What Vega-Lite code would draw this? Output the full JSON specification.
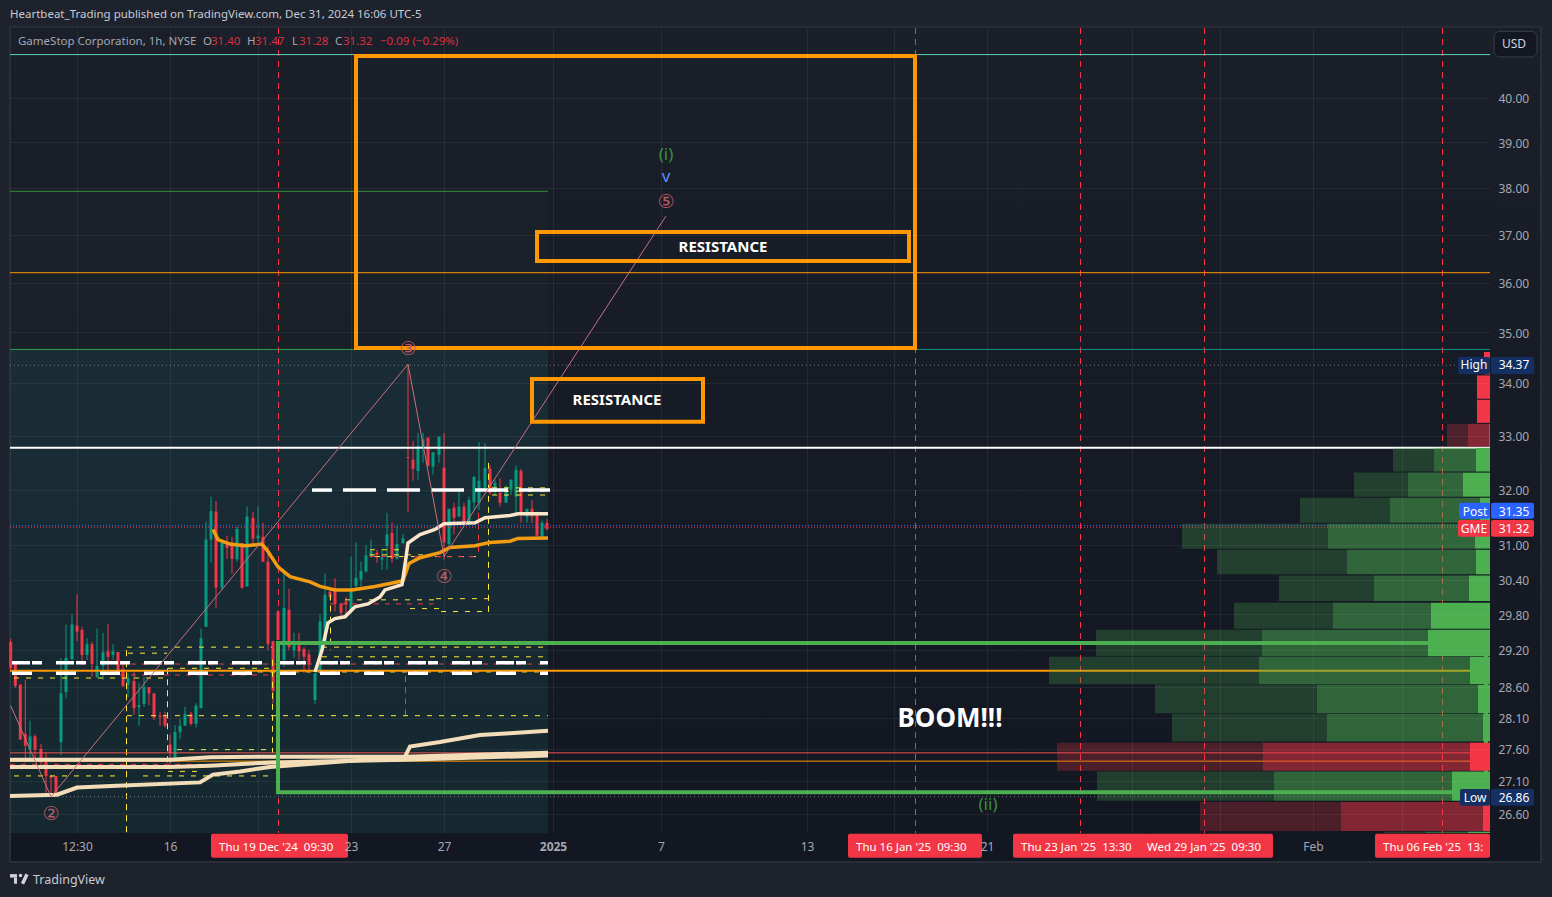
{
"$schema":"https://vega.github.io/schema/vega-lite/v6.json",
"width":1480,"height":805,
"autosize":{"type":"none"},
"padding":{"left":10,"top":28,"right":62,"bottom":64},
"background":"#1E222D",
"config":{"font":"Noto Sans","view":{"stroke":null,"fill":{"x1":0,"y1":0,"x2":0,"y2":1,"gradient":"linear","stops":[{"offset":0,"color":"#1B1F2A"},{"offset":1,"color":"#131722"}]}}},
"datasets":{
"candles":[
{"t":10.7,"o":29.34,"h":29.39,"l":28.84,"c":28.90},{"t":15.3,"o":28.97,"h":28.97,"l":28.58,"c":28.61},{"t":20.3,"o":28.63,"h":28.64,"l":27.75,"c":27.75},{"t":25.3,"o":27.84,"h":28.71,"l":27.39,"c":27.65},{"t":30,"o":27.60,"h":28.05,"l":27.43,"c":27.80},{"t":35,"o":27.80,"h":27.83,"l":27.43,"c":27.59},{"t":41,"o":27.60,"h":27.68,"l":27.32,"c":27.39},{"t":46,"o":27.40,"h":27.54,"l":26.92,"c":27.18},{"t":51,"o":27.18,"h":27.20,"l":26.86,"c":27.15},{"t":56,"o":27.18,"h":27.18,"l":26.89,"c":26.89},
{"t":61,"o":27.71,"h":29.07,"l":27.50,"c":28.49},{"t":66,"o":28.51,"h":29.63,"l":28.41,"c":29.07},{"t":72,"o":29.05,"h":29.80,"l":29.04,"c":29.63},{"t":77,"o":29.61,"h":30.14,"l":29.35,"c":29.51},{"t":82,"o":29.54,"h":29.59,"l":28.95,"c":29.12},{"t":87,"o":29.12,"h":29.40,"l":29.04,"c":29.30},{"t":92,"o":29.30,"h":29.34,"l":28.76,"c":28.97},{"t":97,"o":28.76,"h":29.56,"l":28.74,"c":28.94},{"t":103,"o":28.94,"h":29.49,"l":28.71,"c":29.17},{"t":108,"o":29.18,"h":29.64,"l":28.87,"c":29.09},
{"t":113,"o":29.12,"h":29.30,"l":29.04,"c":29.18},{"t":118,"o":29.17,"h":29.17,"l":28.82,"c":28.82},{"t":123,"o":28.89,"h":29.00,"l":28.59,"c":28.61},{"t":128,"o":28.63,"h":28.82,"l":28.43,"c":28.74},{"t":134,"o":28.69,"h":28.84,"l":28.14,"c":28.25},{"t":139,"o":28.27,"h":28.66,"l":27.97,"c":28.30},{"t":144,"o":28.32,"h":28.76,"l":28.27,"c":28.59},{"t":149,"o":28.59,"h":28.59,"l":28.30,"c":28.49},{"t":154,"o":28.49,"h":28.49,"l":28.06,"c":28.10},{"t":160,"o":28.13,"h":28.19,"l":27.97,"c":28.11},
{"t":165,"o":28.13,"h":28.19,"l":27.94,"c":27.97},{"t":170,"o":27.67,"h":27.83,"l":27.31,"c":27.54},{"t":175,"o":27.47,"h":27.98,"l":27.47,"c":27.87},{"t":180,"o":27.87,"h":28.08,"l":27.76,"c":27.97},{"t":185,"o":27.97,"h":28.27,"l":27.97,"c":28.16},{"t":191,"o":28.16,"h":28.19,"l":27.97,"c":28.00},{"t":196,"o":28.00,"h":28.33,"l":27.94,"c":28.29},{"t":201,"o":28.25,"h":29.56,"l":28.25,"c":29.40},{"t":206,"o":29.59,"h":31.42,"l":29.59,"c":31.10},{"t":211,"o":31.10,"h":31.87,"l":30.69,"c":31.61},
{"t":216,"o":31.60,"h":31.79,"l":29.90,"c":30.26},{"t":222,"o":30.26,"h":31.05,"l":30.22,"c":31.05},{"t":227,"o":31.07,"h":31.17,"l":30.76,"c":30.95},{"t":232,"o":30.99,"h":31.15,"l":30.50,"c":30.76},{"t":237,"o":30.75,"h":31.33,"l":30.71,"c":31.29},{"t":242,"o":31.04,"h":31.04,"l":30.24,"c":30.26},{"t":247,"o":30.28,"h":31.69,"l":30.28,"c":31.51},{"t":253,"o":31.49,"h":31.60,"l":30.99,"c":31.12},{"t":258,"o":31.12,"h":31.69,"l":30.98,"c":31.17},{"t":263,"o":31.15,"h":31.40,"l":30.71,"c":30.71},
{"t":268,"o":30.71,"h":30.98,"l":29.20,"c":29.30},{"t":273,"o":29.35,"h":29.35,"l":28.33,"c":28.53},{"t":278,"o":29.85,"h":29.88,"l":29.37,"c":29.37},{"t":284,"o":29.04,"h":30.57,"l":28.92,"c":29.91},{"t":289,"o":29.88,"h":30.24,"l":29.20,"c":29.25},{"t":294,"o":29.20,"h":29.49,"l":29.07,"c":29.28},{"t":299,"o":29.28,"h":29.49,"l":29.04,"c":29.18},{"t":304,"o":29.22,"h":29.25,"l":28.82,"c":29.09},{"t":309,"o":29.13,"h":29.20,"l":28.87,"c":28.97},{"t":315,"o":28.38,"h":28.82,"l":28.32,"c":28.82},
{"t":320,"o":28.82,"h":29.80,"l":28.82,"c":29.68},{"t":325,"o":29.32,"h":30.50,"l":29.32,"c":30.14},{"t":330,"o":30.19,"h":30.22,"l":30.05,"c":30.10},{"t":335,"o":30.22,"h":30.42,"l":29.85,"c":29.98},{"t":341,"o":29.98,"h":30.00,"l":29.76,"c":29.83},{"t":346,"o":30.02,"h":30.10,"l":29.74,"c":29.97},{"t":351,"o":29.85,"h":30.80,"l":29.85,"c":30.19},{"t":356,"o":30.29,"h":31.05,"l":30.22,"c":30.43},{"t":361,"o":30.40,"h":30.71,"l":30.28,"c":30.55},{"t":366,"o":30.54,"h":31.00,"l":30.52,"c":30.82},
{"t":371,"o":30.80,"h":31.10,"l":30.78,"c":30.90},{"t":377,"o":30.87,"h":30.92,"l":30.69,"c":30.83},{"t":382,"o":30.75,"h":30.94,"l":30.57,"c":30.78},{"t":387,"o":30.99,"h":31.58,"l":30.57,"c":31.19},{"t":392,"o":31.22,"h":31.40,"l":30.69,"c":30.76},{"t":397,"o":30.76,"h":31.35,"l":30.75,"c":31.02},{"t":403,"o":31.04,"h":31.20,"l":31.02,"c":31.12},{"t":408,"o":32.60,"h":34.37,"l":31.60,"c":32.58},{"t":413,"o":32.55,"h":32.90,"l":32.16,"c":32.38},{"t":418,"o":32.34,"h":33.05,"l":32.18,"c":32.80},
{"t":423,"o":32.78,"h":33.05,"l":32.49,"c":32.93},{"t":428,"o":32.96,"h":32.96,"l":32.42,"c":32.44},{"t":433,"o":32.42,"h":32.69,"l":32.27,"c":32.69},{"t":439,"o":32.64,"h":32.98,"l":32.49,"c":32.98},{"t":444,"o":32.40,"h":33.05,"l":30.75,"c":31.05},{"t":449,"o":31.02,"h":31.65,"l":30.99,"c":31.65},{"t":454,"o":31.67,"h":31.76,"l":31.19,"c":31.49},{"t":459,"o":31.51,"h":32.00,"l":31.51,"c":31.69},{"t":464,"o":31.69,"h":31.76,"l":31.38,"c":31.40},{"t":469,"o":31.42,"h":31.87,"l":31.40,"c":31.81},
{"t":474,"o":31.77,"h":32.25,"l":31.63,"c":32.23},{"t":479,"o":31.76,"h":32.88,"l":31.63,"c":32.16},{"t":485,"o":32.03,"h":32.86,"l":32.00,"c":32.40},{"t":490,"o":32.38,"h":32.44,"l":31.90,"c":31.94},{"t":495,"o":32.00,"h":32.18,"l":31.90,"c":32.12},{"t":500,"o":31.94,"h":32.21,"l":31.69,"c":31.76},{"t":506,"o":31.76,"h":32.08,"l":31.76,"c":32.05},{"t":511,"o":32.00,"h":32.18,"l":31.90,"c":32.18},{"t":516,"o":31.87,"h":32.44,"l":31.51,"c":32.36},{"t":521,"o":32.34,"h":32.38,"l":31.40,"c":31.58},
{"t":527,"o":31.51,"h":31.65,"l":31.40,"c":31.65},{"t":532,"o":31.65,"h":31.81,"l":31.40,"c":31.51},{"t":537,"o":31.58,"h":31.60,"l":31.15,"c":31.17},{"t":542,"o":31.15,"h":31.44,"l":31.10,"c":31.40},{"t":547,"o":31.40,"h":31.47,"l":31.26,"c":31.29}
],
"profile":[
{"seg":"dnNear","t":1484,"t2":1490,"p":34.61,"p2":34.17},
{"seg":"dnNear","t":1477,"t2":1490,"p":34.15,"p2":33.70},
{"seg":"dnNear","t":1477,"t2":1490,"p":33.68,"p2":33.24},
{"seg":"dnFar","t":1447,"t2":1468,"p":33.22,"p2":32.79},{"seg":"dnMid","t":1468,"t2":1489,"p":33.22,"p2":32.79},{"seg":"dnNear","t":1489,"t2":1490,"p":33.22,"p2":32.79},
{"seg":"upFar","t":1393,"t2":1434,"p":32.77,"p2":32.33},{"seg":"upMid","t":1434,"t2":1476,"p":32.77,"p2":32.33},{"seg":"upNear","t":1476,"t2":1490,"p":32.77,"p2":32.33},
{"seg":"upFar","t":1354,"t2":1408,"p":32.31,"p2":31.87},{"seg":"upMid","t":1408,"t2":1463,"p":32.31,"p2":31.87},{"seg":"upNear","t":1463,"t2":1490,"p":32.31,"p2":31.87},
{"seg":"upFar","t":1300,"t2":1390,"p":31.85,"p2":31.40},{"seg":"upMid","t":1390,"t2":1480,"p":31.85,"p2":31.40},{"seg":"upNear","t":1480,"t2":1490,"p":31.85,"p2":31.40},
{"seg":"upFar","t":1182,"t2":1328,"p":31.38,"p2":30.94},{"seg":"upMid","t":1328,"t2":1475,"p":31.38,"p2":30.94},{"seg":"upNear","t":1475,"t2":1490,"p":31.38,"p2":30.94},
{"seg":"upFar","t":1217,"t2":1347,"p":30.92,"p2":30.49},{"seg":"upMid","t":1347,"t2":1476,"p":30.92,"p2":30.49},{"seg":"upNear","t":1476,"t2":1490,"p":30.92,"p2":30.49},
{"seg":"upFar","t":1279,"t2":1374,"p":30.47,"p2":30.03},{"seg":"upMid","t":1374,"t2":1469,"p":30.47,"p2":30.03},{"seg":"upNear","t":1469,"t2":1490,"p":30.47,"p2":30.03},
{"seg":"upFar","t":1234,"t2":1333,"p":30.00,"p2":29.56},{"seg":"upMid","t":1333,"t2":1431,"p":30.00,"p2":29.56},{"seg":"upNear","t":1431,"t2":1490,"p":30.00,"p2":29.56},
{"seg":"upFar","t":1096,"t2":1262,"p":29.54,"p2":29.10},{"seg":"upMid","t":1262,"t2":1428,"p":29.54,"p2":29.10},{"seg":"upNear","t":1428,"t2":1490,"p":29.54,"p2":29.10},
{"seg":"upFar","t":1049,"t2":1259,"p":29.09,"p2":28.64},{"seg":"upMid","t":1259,"t2":1470,"p":29.09,"p2":28.64},{"seg":"upNear","t":1470,"t2":1490,"p":29.09,"p2":28.64},
{"seg":"upFar","t":1155,"t2":1317,"p":28.63,"p2":28.17},{"seg":"upMid","t":1317,"t2":1478,"p":28.63,"p2":28.17},{"seg":"upNear","t":1478,"t2":1490,"p":28.63,"p2":28.17},
{"seg":"upFar","t":1172,"t2":1327,"p":28.16,"p2":27.72},{"seg":"upMid","t":1327,"t2":1483,"p":28.16,"p2":27.72},{"seg":"upNear","t":1483,"t2":1490,"p":28.16,"p2":27.72},
{"seg":"dnFar","t":1057,"t2":1263,"p":27.70,"p2":27.26},{"seg":"dnMid","t":1263,"t2":1470,"p":27.70,"p2":27.26},{"seg":"dnNear","t":1470,"t2":1490,"p":27.70,"p2":27.26},
{"seg":"upFar","t":1097,"t2":1274,"p":27.25,"p2":26.80},{"seg":"upMid","t":1274,"t2":1452,"p":27.25,"p2":26.80},{"seg":"upNear","t":1452,"t2":1490,"p":27.25,"p2":26.80},
{"seg":"dnFar","t":1200,"t2":1341,"p":26.78,"p2":26.34},{"seg":"dnMid","t":1341,"t2":1483,"p":26.78,"p2":26.34},{"seg":"dnNear","t":1483,"t2":1490,"p":26.78,"p2":26.34},
{"seg":"upFar","t":1384,"t2":1426,"p":26.33,"p2":26.31},{"seg":"upMid","t":1426,"t2":1468,"p":26.33,"p2":26.31},{"seg":"upNear","t":1468,"t2":1490,"p":26.33,"p2":26.31}
],
"thinLevels":[
{"kind":"teal","t":10,"t2":1490,"p":41.004},
{"kind":"greenThin","t":10,"t2":548,"p":37.93},
{"kind":"orangeThin","t":10,"t2":1490,"p":36.21},
{"kind":"green","t":10,"t2":355,"p":34.66},
{"kind":"tealDark","t":916,"t2":1490,"p":34.66},
{"kind":"dots","t":10,"t2":1490,"p":34.35},
{"kind":"dots","t":10,"t2":1490,"p":26.86},
{"kind":"blueDots","t":10,"t2":1490,"p":31.35},
{"kind":"redDots","t":10,"t2":1490,"p":31.32},
{"kind":"redThin","t":10,"t2":1490,"p":27.54},
{"kind":"orangeThin","t":10,"t2":1490,"p":27.41},
{"kind":"yellow","t":127,"t2":272,"p":29.25},{"kind":"yellow","t":322,"t2":548,"p":29.25},{"kind":"yellow","t":128,"t2":167,"p":29.15},{"kind":"yellow","t":322,"t2":548,"p":29.09},{"kind":"yellow","t":168,"t2":272,"p":28.90},{"kind":"yellow","t":246,"t2":548,"p":28.84},{"kind":"yellow","t":14,"t2":168,"p":28.74},{"kind":"yellow","t":127,"t2":548,"p":28.13},{"kind":"yellow","t":177,"t2":272,"p":27.59},{"kind":"yellow","t":14,"t2":120,"p":27.18},{"kind":"yellow","t":143,"t2":272,"p":27.18},{"kind":"yellow","t":168,"t2":203,"p":27.25},{"kind":"yellow","t":345,"t2":436,"p":30.05},{"kind":"yellow","t":436,"t2":488,"p":30.07},{"kind":"yellow","t":410,"t2":441,"p":29.90},{"kind":"yellow","t":441,"t2":488,"p":29.85},{"kind":"yellow","t":370,"t2":438,"p":30.83},{"kind":"yellow","t":370,"t2":400,"p":30.92},{"kind":"yellow","t":375,"t2":478,"p":30.80},{"kind":"yellow","t":492,"t2":548,"p":32.03},{"kind":"yellow","t":492,"t2":548,"p":31.97},{"kind":"yellow","t":492,"t2":548,"p":31.90},
{"kind":"redDash","t":120,"t2":548,"p":28.97},{"kind":"redDash","t":10,"t2":272,"p":27.36},{"kind":"redDash","t":120,"t2":272,"p":28.79},{"kind":"redDash","t":330,"t2":440,"p":29.98},{"kind":"redDash","t":370,"t2":478,"p":30.80}
],
"whiteLevel":[{"t":10,"t2":1490,"p":32.77}],
"orangeLevel":[{"t":10,"t2":1490,"p":28.86}],
"whiteA":[{"t":12,"t2":548,"p":28.99}],
"whiteB":[{"t":12,"t2":548,"p":28.82}],
"whiteC":[{"t":312,"t2":332,"p":31.99},{"t":343,"t2":550,"p":31.99}],
"verticals":[
{"kind":"red","t":278.5,"p":41.63,"p2":26.31},{"kind":"red","t":915.5,"p":41.63,"p2":26.31},{"kind":"red","t":1080.5,"p":41.63,"p2":26.31},{"kind":"red","t":1204.5,"p":41.63,"p2":26.31},{"kind":"red","t":1442.5,"p":41.63,"p2":26.31},
{"kind":"red","t":126.5,"p":29.20,"p2":26.31},{"kind":"red","t":405.5,"p":28.77,"p2":28.13},{"kind":"red","t":478.5,"p":31.58,"p2":30.80},
{"kind":"yellow","t":126.5,"p":29.20,"p2":26.31},{"kind":"yellow","t":167.5,"p":28.90,"p2":27.31},{"kind":"yellow","t":272.5,"p":29.04,"p2":27.54},{"kind":"yellow","t":488.5,"p":32.49,"p2":29.80},{"kind":"yellow","t":330.5,"p":30.14,"p2":29.20}
],
"studies":[
{"s":"a","t":10,"p":27.43},{"s":"a","t":170,"p":27.43},{"s":"a","t":210,"p":27.47},{"s":"a","t":272,"p":27.48},{"s":"a","t":405,"p":27.48},{"s":"a","t":548,"p":27.54},
{"s":"b","t":10,"p":27.32},{"s":"b","t":170,"p":27.32},{"s":"b","t":210,"p":27.34},{"s":"b","t":272,"p":27.39},{"s":"b","t":405,"p":27.43},{"s":"b","t":548,"p":27.50},
{"s":"c","t":10,"p":26.87},{"s":"c","t":57,"p":26.89},{"s":"c","t":77,"p":27.00},{"s":"c","t":117,"p":27.03},{"s":"c","t":200,"p":27.08},{"s":"c","t":213,"p":27.20},{"s":"c","t":240,"p":27.25},{"s":"c","t":270,"p":27.32},{"s":"c","t":405,"p":27.48},{"s":"c","t":410,"p":27.64},{"s":"c","t":440,"p":27.71},{"s":"c","t":480,"p":27.82},{"s":"c","t":510,"p":27.85},{"s":"c","t":548,"p":27.89},
{"s":"d","t":315,"p":28.84},{"s":"d","t":322,"p":29.20},{"s":"d","t":328,"p":29.66},{"s":"d","t":335,"p":29.73},{"s":"d","t":345,"p":29.76},{"s":"d","t":355,"p":29.93},{"s":"d","t":368,"p":29.98},{"s":"d","t":380,"p":30.10},{"s":"d","t":385,"p":30.22},{"s":"d","t":402,"p":30.31},{"s":"d","t":405,"p":30.66},{"s":"d","t":408,"p":31.04},{"s":"d","t":420,"p":31.19},{"s":"d","t":435,"p":31.28},{"s":"d","t":444,"p":31.38},{"s":"d","t":475,"p":31.40},{"s":"d","t":485,"p":31.49},{"s":"d","t":510,"p":31.53},{"s":"d","t":518,"p":31.56},{"s":"d","t":548,"p":31.56},
{"s":"e","t":213,"p":31.28},{"s":"e","t":218,"p":31.10},{"s":"e","t":230,"p":31.02},{"s":"e","t":245,"p":30.99},{"s":"e","t":262,"p":31.02},{"s":"e","t":268,"p":30.89},{"s":"e","t":278,"p":30.62},{"s":"e","t":285,"p":30.52},{"s":"e","t":290,"p":30.45},{"s":"e","t":310,"p":30.36},{"s":"e","t":320,"p":30.28},{"s":"e","t":335,"p":30.22},{"s":"e","t":352,"p":30.22},{"s":"e","t":375,"p":30.28},{"s":"e","t":390,"p":30.33},{"s":"e","t":403,"p":30.38},{"s":"e","t":409,"p":30.68},{"s":"e","t":420,"p":30.78},{"s":"e","t":440,"p":30.87},{"s":"e","t":450,"p":30.96},{"s":"e","t":475,"p":30.99},{"s":"e","t":490,"p":31.05},{"s":"e","t":510,"p":31.07},{"s":"e","t":518,"p":31.12},{"s":"e","t":548,"p":31.13}
],
"wave":[{"t":10.7,"p":28.29},{"t":51,"p":26.86},{"t":408,"p":34.37},{"t":444,"p":30.80},{"t":666,"p":37.40}],
"tintUpper":[{"t":10,"t2":548,"p":37.93,"p2":34.67}],
"tintLower":[{"t":10,"t2":548,"p":34.67,"p2":26.31}],
"greenBox":[{"t":278,"t2":1486,"p":29.32,"p2":26.93}],
"orangeBoxes":[{"t":356,"t2":915,"p":40.97,"p2":34.69},{"t":537,"t2":909,"p":37.06,"p2":36.45},{"t":532,"t2":703,"p":34.08,"p2":33.26}],
"rightPanel":[{"t":1490,"t2":1541,"p":41.66,"p2":25.88}],
"bottomPanel":[{"t":10,"t2":1490,"p":26.31,"p2":25.88}],
"frame":[{"t":10,"t2":1541,"p":41.66,"p2":25.88}],
"usd":[{"t":1494,"t2":1537,"p":41.55,"p2":40.95}],
"priceTags":[
{"tag":"navy","t":1458,"t2":1490,"p":34.51,"p2":34.18},{"tag":"navy","t":1491,"t2":1534,"p":34.51,"p2":34.18},
{"tag":"blue","t":1459,"t2":1490,"p":31.76,"p2":31.47},{"tag":"blue","t":1491,"t2":1534,"p":31.76,"p2":31.47},
{"tag":"red","t":1458,"t2":1490,"p":31.45,"p2":31.15},{"tag":"red","t":1491,"t2":1534,"p":31.45,"p2":31.15},
{"tag":"navy","t":1460,"t2":1490,"p":26.98,"p2":26.72},{"tag":"navy","t":1491,"t2":1534,"p":26.98,"p2":26.72}
],
"dateTags":[{"t":211,"t2":348,"p":26.30,"p2":25.94},{"t":848,"t2":982,"p":26.30,"p2":25.94},{"t":1013,"t2":1147,"p":26.30,"p2":25.94},{"t":1145,"t2":1273,"p":26.30,"p2":25.94},{"t":1375,"t2":1490,"p":26.30,"p2":25.94}],
"dateText":[{"t":219,"p":26.08,"label":"Thu 19 Dec '24\u00a0\u00a009:30"},{"t":856,"p":26.08,"label":"Thu 16 Jan '25\u00a0\u00a009:30"},{"t":1021,"p":26.08,"label":"Thu 23 Jan '25\u00a0\u00a013:30"},{"t":1147,"p":26.08,"label":"Wed 29 Jan '25\u00a0\u00a009:30"},{"t":1383,"p":26.08,"label":"Thu 06 Feb '25\u00a0\u00a013:"}],
"tagText":[
{"t":1474,"p":34.35,"label":"High"},{"t":1514,"p":34.35,"label":"34.37"},{"t":1475,"p":31.59,"label":"Post"},{"t":1514,"p":31.59,"label":"31.35"},{"t":1474,"p":31.28,"label":"GME"},{"t":1514,"p":31.28,"label":"31.32"},{"t":1475,"p":26.84,"label":"Low"},{"t":1514,"p":26.84,"label":"26.86"}
],
"header":[
{"role":"head","t":10,"p":41.93,"label":"Heartbeat_Trading published on TradingView.com, Dec 31, 2024 16:06 UTC-5"},
{"role":"meta","t":18,"p":41.29,"label":"GameStop Corporation, 1h, NYSE"},
{"role":"meta","t":203,"p":41.29,"label":"O"},{"role":"down","t":211,"p":41.29,"label":"31.40"},
{"role":"meta","t":247,"p":41.29,"label":"H"},{"role":"down","t":255,"p":41.29,"label":"31.47"},
{"role":"meta","t":292,"p":41.29,"label":"L"},{"role":"down","t":299,"p":41.29,"label":"31.28"},
{"role":"meta","t":335,"p":41.29,"label":"C"},{"role":"down","t":343,"p":41.29,"label":"31.32"},
{"role":"down","t":380,"p":41.29,"label":"\u22120.09 (\u22120.29%)"}
],
"footer":[{"t":33,"p":25.62,"label":"TradingView"}],
"resistance":[{"t":723,"p":36.75,"label":"RESISTANCE"},{"t":617,"p":33.67,"label":"RESISTANCE"}],
"boom":[{"t":950,"p":28.08,"label":"BOOM!!!"}],
"waveText":[{"role":"i","t":666,"p":38.72,"label":"(i)"},{"role":"v","t":666,"p":38.24,"label":"v"},{"role":"i","t":988,"p":26.73,"label":"(ii)"}],
"waveNums":[{"t":666,"p":37.70,"label":"\u2464"},{"t":408,"p":34.67,"label":"\u2462"},{"t":51,"p":26.59,"label":"\u2461"},{"t":444,"p":30.44,"label":"\u2463"}],
"usdText":[{"t":1514,"p":41.25,"label":"USD"}],
"logoRect":[{"t":10,"t2":17,"p":25.70,"p2":25.65},{"t":14,"t2":17,"p":25.65,"p2":25.56}],
"logoSlash":[{"t":27,"t2":22.5,"p":25.70,"p2":25.56}],
"logoDot":[{"t":20.5,"p":25.68}]
},
"encoding":{
"x":{"field":"t","type":"quantitative","title":null,"scale":{"domain":[10,1490],"nice":false,"zero":false,"padding":0},
"axis":{"orient":"bottom","zindex":1,"values":[77,170,258,351,444,553,661,807,894,987,1132,1220,1313,1402],
"labelExpr":"datum.value==77?'12:30':datum.value==170?'16':datum.value==351?'23':datum.value==444?'27':datum.value==553?'2025':datum.value==661?'7':datum.value==807?'13':datum.value==987?'21':datum.value==1313?'Feb':''",
"labelFontWeight":{"condition":{"test":"datum.value==553","value":"bold"},"value":"normal"},
"labelColor":"#A5A8B2","labelFontSize":12,"labelPadding":8,"ticks":false,"domain":false,"labelOverlap":false,"labelBound":false,"labelFlush":false,"grid":true,"gridColor":"#FFFFFF","gridOpacity":0.06,"gridWidth":1}},
"y":{"field":"p","type":"quantitative","title":null,"scale":{"type":"log","domain":[26.31,41.63],"nice":false,"zero":false},
"axis":{"orient":"right","zindex":1,"values":[40,39,38,37,36,35,34,33,32,31,30.4,29.8,29.2,28.6,28.1,27.6,27.1,26.6],"format":".2f",
"labelColor":"#A5A8B2","labelFontSize":12,"labelPadding":8,"labelOffset":0.7,"ticks":false,"domain":false,"labelOverlap":false,"labelBound":false,"labelFlush":false,"grid":true,"gridColor":"#FFFFFF","gridOpacity":0.06,"gridWidth":1}}
},
"layer":[
{"data":{"name":"rightPanel"},"mark":{"type":"rect","color":{"x1":0,"y1":0,"x2":0,"y2":1,"gradient":"linear","stops":[{"offset":0,"color":"#1B1F2A"},{"offset":1,"color":"#131722"}]}},"encoding":{"x2":{"field":"t2"},"y2":{"field":"p2"}}},
{"data":{"name":"bottomPanel"},"mark":{"type":"rect","color":"#131722"},"encoding":{"x2":{"field":"t2"},"y2":{"field":"p2"}}},
{"data":{"name":"frame"},"mark":{"type":"rect","fill":"transparent","stroke":"#2A2E39","strokeWidth":2},"encoding":{"x2":{"field":"t2"},"y2":{"field":"p2"}}},
{"data":{"name":"tintUpper"},"mark":{"type":"rect","color":"#4CAF50","opacity":0.03},"encoding":{"x2":{"field":"t2"},"y2":{"field":"p2"}}},
{"data":{"name":"tintLower"},"mark":{"type":"rect","color":"#26A69A","opacity":0.12},"encoding":{"x2":{"field":"t2"},"y2":{"field":"p2"}}},
{"data":{"name":"candles"},"mark":{"type":"rule","strokeWidth":1},"encoding":{"y":{"field":"h","type":"quantitative"},"y2":{"field":"l"},"color":{"condition":{"test":"datum.c>=datum.o","value":"#089981"},"value":"#F23645"}}},
{"data":{"name":"candles"},"mark":{"type":"bar","size":3,"orient":"vertical"},"encoding":{"y":{"field":"o","type":"quantitative"},"y2":{"field":"c"},"color":{"condition":{"test":"datum.c>=datum.o","value":"#089981"},"value":"#F23645"}}},
{"data":{"name":"verticals"},"mark":{"type":"rule","strokeWidth":1,"strokeDash":[6,5]},"encoding":{"y2":{"field":"p2"},"color":{"field":"kind","type":"nominal","legend":null,"scale":{"domain":["red","yellow"],"range":["#F23645","#FFEB3B"]}}}},
{"data":{"name":"thinLevels"},"mark":{"type":"rule","strokeWidth":1},"encoding":{"x2":{"field":"t2"},
"color":{"field":"kind","type":"nominal","legend":null,"scale":{"domain":["teal","greenThin","orangeThin","green","tealDark","dots","blueDots","redDots","redThin","yellow","redDash"],"range":["#5BD1B5","#388E3C","#FF9800","#2E9E50","#089981","#787B86","#2962FF","#F23645","#EF5350","#FFEB3B","#F23645"]}},
"strokeDash":{"field":"kind","type":"nominal","legend":null,"scale":{"domain":["teal","greenThin","orangeThin","green","tealDark","dots","blueDots","redDots","redThin","yellow","redDash"],"range":[[1,0],[1,0],[1,0],[1,0],[1,0],[1,3],[1,2],[1,2],[1,0],[5,7],[5,6]]}}}},
{"data":{"name":"whiteLevel"},"mark":{"type":"rule","color":"#FFFFFF","strokeWidth":2},"encoding":{"x2":{"field":"t2"}}},
{"data":{"name":"orangeLevel"},"mark":{"type":"rule","color":"#FF9800","strokeWidth":2},"encoding":{"x2":{"field":"t2"}}},
{"data":{"name":"whiteA"},"mark":{"type":"rule","color":"#FFFFFF","strokeWidth":3.5,"strokeDash":[18,2,10,14]},"encoding":{"x2":{"field":"t2"}}},
{"data":{"name":"whiteB"},"mark":{"type":"rule","color":"#FFFFFF","strokeWidth":3.5,"strokeDash":[20,24]},"encoding":{"x2":{"field":"t2"}}},
{"data":{"name":"whiteC"},"mark":{"type":"rule","color":"#FFFFFF","strokeWidth":3.5,"strokeDash":[33,11]},"encoding":{"x2":{"field":"t2"}}},
{"data":{"name":"studies"},"transform":[{"filter":"datum.s=='a'||datum.s=='b'||datum.s=='c'"}],"mark":{"type":"line","color":"#F3DDB8","strokeWidth":4},"encoding":{"detail":{"field":"s"}}},
{"data":{"name":"studies"},"transform":[{"filter":"datum.s=='e'"}],"mark":{"type":"line","color":"#F39C12","strokeWidth":3.5}},
{"data":{"name":"studies"},"transform":[{"filter":"datum.s=='d'"}],"mark":{"type":"line","color":"#FBE6CA","strokeWidth":3.5}},
{"data":{"name":"wave"},"mark":{"type":"line","color":"#C9707C","strokeWidth":1}},
{"data":{"name":"greenBox"},"mark":{"type":"rect","fill":"transparent","stroke":"#4CAF50","strokeWidth":4},"encoding":{"x2":{"field":"t2"},"y2":{"field":"p2"}}},
{"data":{"name":"profile"},"mark":{"type":"rect"},"encoding":{"x2":{"field":"t2"},"y2":{"field":"p2"},"color":{"field":"seg","type":"nominal","legend":null,"scale":{"domain":["upFar","upMid","upNear","dnFar","dnMid","dnNear"],"range":["rgba(76,175,80,0.25)","rgba(76,175,80,0.5)","rgb(76,175,80)","rgba(242,54,69,0.25)","rgba(242,54,69,0.5)","rgb(242,54,69)"]}}}},
{"data":{"name":"orangeBoxes"},"mark":{"type":"rect","fill":"transparent","stroke":"#FF9800","strokeWidth":4},"encoding":{"x2":{"field":"t2"},"y2":{"field":"p2"}}},
{"data":{"name":"usd"},"mark":{"type":"rect","fill":"#131722","stroke":"#3A3E4A","strokeWidth":1,"cornerRadius":6},"encoding":{"x2":{"field":"t2"},"y2":{"field":"p2"}}},
{"data":{"name":"priceTags"},"mark":{"type":"rect","cornerRadius":2},"encoding":{"x2":{"field":"t2"},"y2":{"field":"p2"},"color":{"field":"tag","type":"nominal","legend":null,"scale":{"domain":["navy","blue","red"],"range":["#132F63","#2962FF","#F23645"]}}}},
{"data":{"name":"dateTags"},"mark":{"type":"rect","color":"#F23645","cornerRadius":2},"encoding":{"x2":{"field":"t2"},"y2":{"field":"p2"}}},
{"data":{"name":"dateText"},"mark":{"type":"text","align":"left","baseline":"middle","color":"#FFFFFF","fontSize":11.5},"encoding":{"text":{"field":"label"}}},
{"data":{"name":"tagText"},"mark":{"type":"text","align":"center","baseline":"middle","color":"#FFFFFF","fontSize":12},"encoding":{"text":{"field":"label"}}},
{"data":{"name":"usdText"},"mark":{"type":"text","align":"center","baseline":"middle","color":"#D1D4DC","fontSize":12},"encoding":{"text":{"field":"label"}}},
{"data":{"name":"header"},"mark":{"type":"text","align":"left","baseline":"middle","fontSize":11.5},"encoding":{"text":{"field":"label"},"color":{"field":"role","type":"nominal","legend":null,"scale":{"domain":["head","meta","down"],"range":["#C8CBD3","#A5A8B2","#D9303F"]}}}},
{"data":{"name":"footer"},"mark":{"type":"text","align":"left","baseline":"middle","fontSize":12.5,"color":"#C8CBD3"},"encoding":{"text":{"field":"label"}}},
{"data":{"name":"resistance"},"mark":{"type":"text","align":"center","baseline":"middle","color":"#FFFFFF","fontSize":15,"fontWeight":"bold"},"encoding":{"text":{"field":"label"}}},
{"data":{"name":"boom"},"mark":{"type":"text","align":"center","baseline":"middle","color":"#FFFFFF","fontSize":26,"fontWeight":"bold"},"encoding":{"text":{"field":"label"}}},
{"data":{"name":"waveText"},"mark":{"type":"text","align":"center","baseline":"middle","fontSize":17},"encoding":{"text":{"field":"label"},"color":{"field":"role","type":"nominal","legend":null,"scale":{"domain":["i","v"],"range":["#388E3C","#5B8DEF"]}}}},
{"data":{"name":"waveNums"},"mark":{"type":"text","align":"center","baseline":"middle","font":"DejaVu Sans","fontSize":19,"color":"#B85A66"},"encoding":{"text":{"field":"label"}}},
{"data":{"name":"logoRect"},"mark":{"type":"rect","color":"#D1D4DC"},"encoding":{"x2":{"field":"t2"},"y2":{"field":"p2"}}},
{"data":{"name":"logoSlash"},"mark":{"type":"rule","color":"#D1D4DC","strokeWidth":3.5},"encoding":{"x2":{"field":"t2"},"y2":{"field":"p2"}}},
{"data":{"name":"logoDot"},"mark":{"type":"point","filled":true,"size":12,"color":"#D1D4DC","opacity":1}}
],
"resolve":{"scale":{"color":"independent","strokeDash":"independent"}}
}
